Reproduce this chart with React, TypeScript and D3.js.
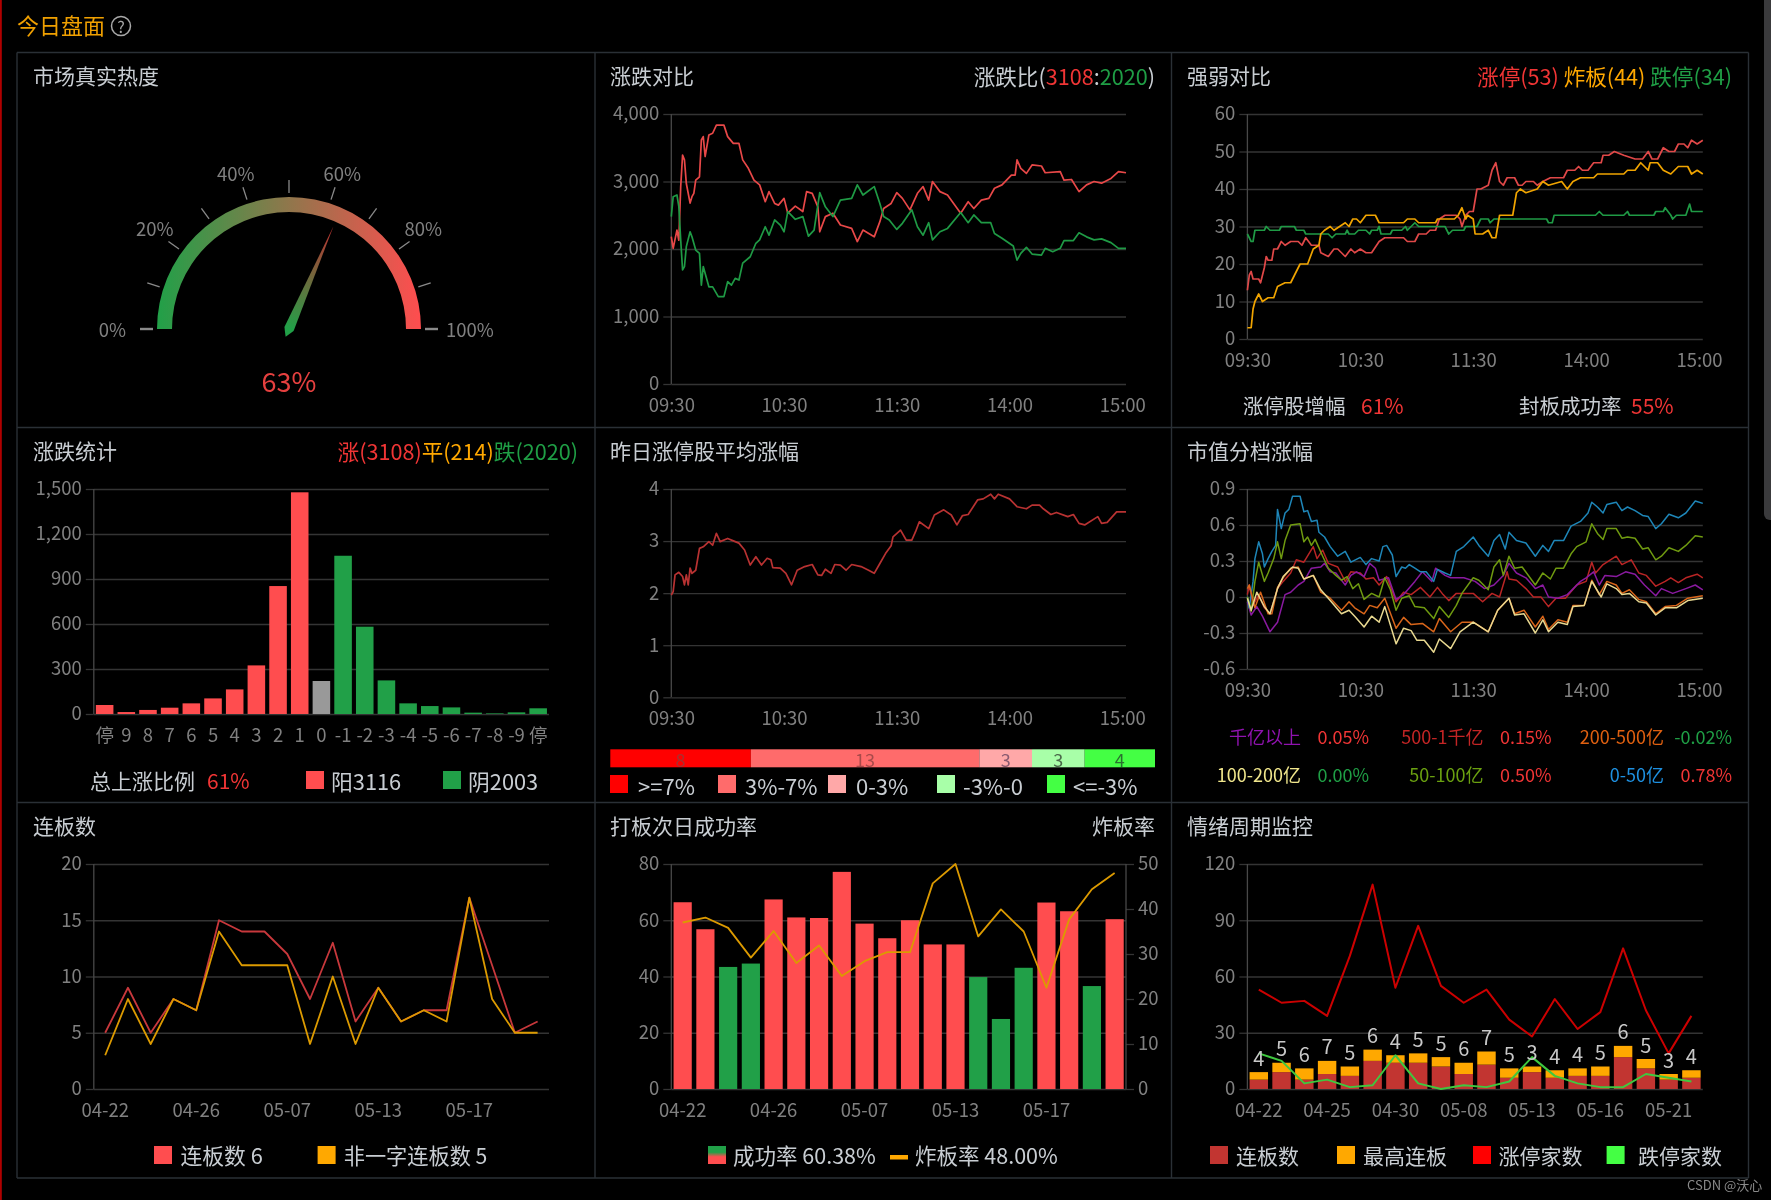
import { useEffect, useRef } from "react";
import * as d3 from "d3";

type Pt = [number, number];

// intraday series are [minute since open, value]
const timeLabels = ["09:30", "10:30", "11:30", "14:00", "15:00"];
const timeTicks = [0, 60, 120, 180, 240];

const upCount: Pt[] = [[0,2183],[1,2010],[3,2280],[4,2130],[5,2920],[6,3390],[7,3320],[8,2970],[10,2680],[11,2775],[12,2825],[13,3020],[15,3070],[16,3615],[17,3665],[18,3370],[20,3690],[22,3715],[24,3835],[28,3835],[30,3665],[33,3565],[36,3565],[38,3320],[41,3195],[44,3020],[47,2950],[50,2700],[52,2850],[55,2675],[57,2650],[60,2750],[62,2530],[66,2635],[70,2555],[72,2850],[75,2825],[78,2625],[79,2255],[82,2480],[86,2530],[90,2355],[96,2305],[99,2110],[102,2280],[108,2180],[111,2405],[113,2600],[117,2675],[120,2835],[123,2750],[127,2580],[131,2825],[134,2925],[137,2725],[139,3000],[143,2850],[147,2800],[154,2530],[158,2700],[161,2600],[165,2725],[169,2750],[172,2900],[176,2950],[181,3095],[183,3095],[184,3320],[186,3195],[189,3120],[192,3245],[197,3230],[199,3130],[207,3145],[209,3020],[213,3030],[217,2850],[221,2950],[225,3000],[229,2975],[234,3045],[238,3145],[242,3130]];
const downCount: Pt[] = [[0,2480],[1,2775],[3,2800],[4,2630],[5,2135],[6,1690],[7,1740],[8,2035],[10,2255],[11,2180],[13,1985],[15,1935],[16,1465],[17,1740],[20,1440],[22,1440],[25,1295],[28,1295],[30,1515],[32,1465],[34,1565],[36,1540],[38,1790],[42,1885],[45,2085],[47,2135],[50,2330],[52,2205],[55,2430],[58,2355],[60,2255],[62,2555],[66,2440],[70,2480],[73,2190],[76,2280],[79,2835],[82,2625],[86,2480],[90,2725],[96,2750],[99,2950],[102,2800],[108,2925],[111,2675],[113,2480],[116,2430],[120,2290],[123,2380],[128,2580],[131,2330],[134,2205],[137,2390],[139,2135],[143,2255],[147,2305],[154,2540],[158,2390],[161,2505],[165,2390],[170,2390],[172,2230],[176,2160],[182,2045],[184,1835],[186,1935],[189,2025],[192,1925],[197,1910],[199,2010],[203,1960],[207,2010],[209,2125],[214,2125],[217,2240],[221,2180],[225,2135],[229,2150],[234,2095],[238,2010],[242,2010]];

const limitUp: Pt[] = [[0,13],[1,17],[2,18],[3,16],[6,16],[7,15],[9,19],[10,22],[11,21],[13,21],[14,24],[16,24],[18,26],[20,25],[23,26],[27,26],[29,25],[31,27],[34,25],[38,25],[39,23],[43,22],[46,24],[48,24],[52,22],[55,24],[57,23],[60,24],[63,23],[66,23],[70,26],[73,27],[83,27],[85,26],[89,26],[91,28],[95,28],[97,29],[100,29],[102,32],[105,33],[111,33],[113,32],[114,30],[116,33],[118,34],[120,34],[122,40],[124,40],[128,41],[130,45],[132,47],[134,42],[136,41],[138,43],[142,43],[144,41],[146,41],[148,42],[152,42],[154,41],[157,42],[161,43],[168,43],[170,45],[174,45],[176,46],[178,45],[181,45],[184,47],[188,47],[189,49],[192,49],[195,50],[200,49],[206,48],[210,48],[213,50],[215,48],[218,48],[221,51],[224,50],[227,50],[229,52],[232,52],[234,51],[236,53],[239,52],[242,53]];
const brokenBoard: Pt[] = [[0,3],[2,3],[3,8],[4,10],[6,12],[8,10],[11,11],[14,11],[16,14],[20,15],[23,15],[25,17],[28,20],[32,20],[35,24],[38,25],[39,28],[41,29],[44,30],[46,29],[52,31],[54,30],[56,32],[58,32],[60,31],[63,33],[68,33],[70,31],[83,31],[85,32],[89,32],[91,31],[100,31],[101,32],[110,32],[112,33],[114,35],[116,32],[117,33],[120,32],[121,28],[125,28],[128,29],[130,27],[132,27],[134,33],[138,33],[141,33],[143,39],[145,40],[148,39],[154,40],[157,42],[160,41],[167,42],[170,40],[173,42],[177,43],[184,43],[186,44],[200,44],[202,45],[206,45],[209,47],[211,46],[213,45],[214,47],[218,47],[221,45],[225,44],[229,46],[234,46],[236,44],[239,45],[242,44]];
const limitDown: Pt[] = [[0,28],[2,26],[3,26],[4,29],[9,29],[10,30],[12,29],[17,29],[18,30],[25,30],[26,29],[30,29],[31,28],[43,28],[45,27],[47,28],[52,28],[53,29],[54,28],[57,28],[59,29],[63,29],[65,28],[66,29],[69,29],[70,30],[71,28],[76,28],[77,29],[82,29],[84,30],[85,29],[87,30],[89,31],[91,30],[105,30],[107,28],[109,29],[115,29],[116,30],[122,30],[124,32],[128,32],[129,31],[131,32],[159,32],[160,31],[162,31],[163,33],[185,33],[187,34],[189,33],[200,33],[202,34],[203,33],[216,33],[217,34],[221,34],[222,35],[225,33],[226,32],[228,33],[233,33],[235,36],[236,34],[242,34]];

const rangeCats = ["停","9","8","7","6","5","4","3","2","1","0","-1","-2","-3","-4","-5","-6","-7","-8","-9","停"];
const rangeCounts = [60,13,27,42,71,104,164,324,853,1478,220,1055,582,224,71,53,44,9,4,11,38];

const prevLimitAvg: Pt[] = [[0,1.96],[1,2.03],[2,2.35],[4,2.4],[6,2.32],[7,2.16],[8,2.35],[9,2.16],[10,2.48],[11,2.38],[13,2.44],[15,2.86],[17,2.89],[20,2.99],[22,2.92],[24,3.15],[26,2.99],[30,3.05],[34,2.99],[36,2.96],[39,2.83],[42,2.54],[45,2.7],[48,2.54],[51,2.67],[53,2.64],[54,2.49],[58,2.48],[61,2.38],[64,2.16],[67,2.44],[71,2.51],[75,2.55],[78,2.35],[80,2.34],[82,2.46],[85,2.38],[87,2.55],[90,2.54],[93,2.44],[96,2.55],[101,2.51],[105,2.44],[108,2.38],[111,2.57],[114,2.76],[117,2.91],[118,3.08],[122,3.21],[125,3.02],[128,3.02],[130,3.18],[132,3.37],[137,3.24],[140,3.5],[145,3.6],[149,3.5],[152,3.31],[155,3.49],[158,3.51],[163,3.79],[166,3.81],[170,3.9],[172,3.81],[174,3.9],[180,3.81],[184,3.66],[189,3.62],[192,3.69],[196,3.69],[198,3.62],[202,3.51],[205,3.55],[211,3.47],[214,3.51],[217,3.34],[220,3.31],[227,3.47],[229,3.34],[232,3.36],[237,3.56],[242,3.56]];

const distCounts = [8, 13, 3, 3, 4];
const distLabels = [">=7%", "3%-7%", "0-3%", "-3%-0", "<=-3%"];
const distColors = ["#ff0000", "#ff6b6b", "#ffa8a8", "#a8ffa8", "#44ff44"];
const distTextColors = ["#a83030", "#a84a4a", "#8a5a70", "#4a6a4a", "#2a7030"];

const cap0to50: Pt[] = [[0,0],[1,-0.09],[3,0.13],[4,0.32],[6,0.46],[8,0.36],[9,0.25],[11,0.32],[13,0.38],[15,0.43],[16,0.73],[18,0.57],[20,0.7],[22,0.73],[24,0.84],[28,0.84],[30,0.71],[32,0.72],[34,0.63],[37,0.64],[38,0.54],[41,0.5],[44,0.42],[48,0.34],[52,0.38],[55,0.29],[60,0.33],[63,0.27],[66,0.32],[70,0.3],[72,0.42],[74,0.43],[77,0.35],[79,0.17],[82,0.25],[84,0.24],[86,0.27],[89,0.24],[92,0.21],[95,0.21],[99,0.13],[101,0.23],[105,0.2],[108,0.18],[111,0.38],[115,0.42],[120,0.5],[123,0.43],[128,0.34],[131,0.47],[134,0.52],[137,0.4],[139,0.54],[143,0.47],[148,0.45],[153,0.34],[157,0.43],[160,0.38],[163,0.47],[168,0.47],[172,0.59],[177,0.63],[181,0.7],[183,0.79],[186,0.75],[189,0.7],[191,0.77],[196,0.79],[199,0.72],[202,0.75],[206,0.72],[210,0.68],[213,0.67],[217,0.57],[220,0.61],[224,0.69],[229,0.66],[233,0.7],[238,0.8],[242,0.78]];
const cap50to100: Pt[] = [[0,0],[2,-0.12],[4,0.13],[6,0.29],[9,0.13],[11,0.2],[14,0.32],[16,0.46],[18,0.32],[20,0.47],[23,0.6],[28,0.61],[30,0.46],[32,0.5],[34,0.43],[36,0.48],[40,0.34],[43,0.24],[47,0.18],[50,0.14],[53,0.17],[56,0.07],[59,0.11],[62,-0.02],[66,0.03],[70,0],[73,0.16],[76,0.06],[79,-0.11],[82,-0.01],[86,0.01],[89,-0.08],[94,-0.09],[99,-0.18],[102,-0.08],[107,-0.17],[111,-0.07],[114,0.03],[120,0.16],[123,0.14],[128,0.06],[131,0.25],[134,0.31],[136,0.18],[139,0.34],[142,0.24],[146,0.25],[153,0.1],[157,0.2],[161,0.15],[164,0.24],[168,0.24],[172,0.36],[175,0.42],[180,0.46],[183,0.61],[186,0.53],[189,0.48],[191,0.57],[196,0.57],[199,0.49],[202,0.5],[206,0.49],[210,0.4],[213,0.41],[217,0.31],[220,0.34],[224,0.41],[229,0.38],[233,0.43],[238,0.51],[242,0.5]];
const cap500to1000: Pt[] = [[0,0.02],[1,0.1],[3,-0.07],[6,0.02],[9,-0.09],[12,-0.14],[16,0.07],[19,0.13],[23,0.2],[26,0.31],[30,0.29],[35,0.42],[37,0.32],[40,0.39],[43,0.28],[48,0.25],[52,0.13],[55,0.21],[60,0.2],[63,0.15],[67,0.16],[70,0.1],[74,0.17],[79,-0.04],[83,0.04],[87,0.02],[92,0.08],[97,0],[101,0.08],[104,0.02],[107,-0.03],[111,0.03],[120,0.03],[125,-0.04],[130,0.03],[134,0],[138,0.21],[139,0.15],[143,0.14],[148,0.07],[152,0],[156,0],[160,-0.08],[164,-0.01],[169,-0.01],[175,0.1],[180,0.13],[183,0.29],[185,0.2],[189,0.27],[196,0.34],[199,0.27],[204,0.31],[208,0.2],[212,0.18],[217,0.09],[222,0.13],[225,0.16],[229,0.12],[233,0.16],[239,0.19],[242,0.16]];
const capOver1000: Pt[] = [[0,-0.04],[2,-0.15],[5,-0.08],[8,-0.16],[12,-0.29],[16,-0.21],[20,0.02],[23,0.04],[27,0.1],[30,0.13],[34,0.24],[39,0.25],[41,0.28],[44,0.21],[47,0.2],[52,0.1],[55,0.18],[58,0.21],[62,0.17],[65,0.28],[68,0.24],[70,0.14],[75,0.16],[79,-0.02],[83,0.02],[89,0.13],[93,0.21],[98,0.13],[100,0.24],[105,0.18],[108,0.16],[115,0.16],[121,0.13],[126,0.07],[131,0.1],[136,0.18],[139,0.28],[143,0.2],[148,0.16],[153,0.07],[157,0.1],[160,0],[165,-0.01],[170,0.02],[177,0.13],[180,0.16],[184,0.21],[187,0.1],[190,0.18],[196,0.17],[201,0.21],[206,0.19],[211,0.1],[217,0.01],[220,0.07],[226,0.03],[233,0.07],[238,0.1],[242,0.06]];
const cap200to500: Pt[] = [[0,0.07],[1,0.1],[4,-0.09],[7,0.04],[11,-0.14],[13,-0.14],[16,0.08],[19,0.16],[23,0.24],[27,0.25],[30,0.15],[35,0.18],[39,0.04],[44,-0.01],[50,-0.11],[54,-0.04],[57,-0.09],[62,-0.14],[65,-0.07],[69,-0.09],[73,-0.01],[79,-0.26],[83,-0.17],[87,-0.23],[93,-0.22],[99,-0.29],[102,-0.18],[108,-0.29],[114,-0.21],[120,-0.21],[128,-0.29],[133,-0.11],[139,-0.01],[142,-0.14],[147,-0.11],[153,-0.25],[157,-0.16],[160,-0.27],[165,-0.19],[170,-0.21],[173,-0.07],[179,-0.07],[183,0.14],[187,0.02],[191,0.13],[196,0.1],[199,0.03],[203,0.06],[208,-0.02],[212,-0.04],[217,-0.14],[222,-0.08],[228,-0.07],[234,-0.01],[242,0.01]];
const cap100to200: Pt[] = [[0,-0.01],[2,-0.11],[5,0.04],[9,-0.08],[12,-0.14],[16,0.07],[19,0.17],[24,0.25],[27,0.24],[30,0.15],[35,0.18],[39,0.06],[44,-0.03],[50,-0.14],[54,-0.11],[57,-0.16],[62,-0.25],[66,-0.16],[70,-0.21],[73,-0.08],[79,-0.39],[83,-0.26],[87,-0.28],[90,-0.36],[94,-0.36],[99,-0.46],[102,-0.35],[108,-0.43],[113,-0.29],[120,-0.21],[128,-0.29],[133,-0.11],[139,-0.01],[142,-0.15],[147,-0.14],[153,-0.3],[157,-0.19],[160,-0.29],[165,-0.21],[170,-0.23],[173,-0.08],[179,-0.07],[183,0.13],[188,0],[191,0.11],[196,0.07],[199,0.02],[203,0.03],[208,-0.04],[212,-0.05],[217,-0.15],[222,-0.09],[228,-0.09],[234,-0.03],[242,-0.01]];

const dates = ["04-22","04-23","04-24","04-25","04-26","04-29","04-30","05-06","05-07","05-08","05-09","05-10","05-13","05-14","05-15","05-16","05-17","05-20","05-21","05-22"];
const chainCount = [5,9,5,8,7,15,14,14,12,8,13,6,9,6,7,7,17,11,5,6];
const nonOneWord = [3,8,4,8,7,14,11,11,11,4,10,4,9,6,7,6,17,8,5,5];
const nextDayRate = [66.4,56.8,43.4,44.6,67.4,61,60.8,77.2,58.8,53.6,60,51.4,51.4,39.8,24.9,43.1,66.3,63.2,36.6,60.38];
const boardBreakRate = [37,38.1,35.8,29.2,35.1,28,31.9,25.1,28.4,30.4,30.4,45.7,50,33.9,39.9,35,22.5,37.7,44.4,48];
const highestChain = [4,5,6,7,5,6,4,5,5,6,7,5,3,4,4,5,6,5,3,4];
const limitUpDaily = [53,46,47,39,71,109,54,87,55,46,53,37,28,48,32,41,75,42,19,39];
const limitDownDaily = [19,15,3,5,1,2,18,3,0,2,1,4,17,7,3,1,1,8,6,4];

const RED = "#ff4d4f";
const GREEN = "#21a048";
const ORANGE = "#ffa800";
const TXT_RED = "#f03535";
const TXT_GREEN = "#1f9e45";
const TITLE = "#c8cdd2";
const TICK = "#808080";
const GRID = "#343434";
const AXIS = "#484848";
const FONT = "'Noto Sans CJK SC', 'Noto Sans', sans-serif";

// plot boxes
const colX: [number, number][] = [[93.8, 549], [671.3, 1126], [1247.4, 1702.8]];

type Sel = d3.Selection<any, unknown, null, undefined>;

const text = (g: Sel, x: number, y: number, s: string, fill = TITLE, size = 21, anchor = "start") =>
  g.append("text").attr("x", x).attr("y", y).attr("fill", fill).attr("font-size", size)
    .attr("text-anchor", anchor).attr("dominant-baseline", "central").text(s);

const rich = (g: Sel, x: number, y: number, parts: [string, string][], anchor = "end", size = 21.6) => {
  const t = g.append("text").attr("x", x).attr("y", y).attr("font-size", size)
    .attr("text-anchor", anchor).attr("dominant-baseline", "central");
  parts.forEach(([s, c]) => t.append("tspan").attr("fill", c).text(s));
};

const swatch = (g: Sel, x: number, y: number, fill: string, w = 18, h = 18) =>
  g.append("rect").attr("x", x).attr("y", y).attr("width", w).attr("height", h).attr("fill", fill);

const styleAxis = (a: Sel) => {
  a.select(".domain").remove();
  a.selectAll("text").attr("fill", TICK).attr("font-size", 18.5).attr("font-family", FONT);
  a.selectAll("line").attr("stroke", GRID).attr("stroke-width", 1.3);
};

const yGrid = (g: Sel, y: any, ticks: number[], x0: number, x1: number, fmt: (v: any) => string = d3.format(",")) => {
  const a = g.append("g").attr("transform", `translate(${x0},0)`)
    .call(d3.axisLeft(y).tickValues(ticks).tickSize(8).tickPadding(4).tickFormat(fmt) as any);
  styleAxis(a);
  const gr = g.append("g").attr("transform", `translate(${x0},0)`)
    .call(d3.axisRight(y).tickValues(ticks).tickSize(x1 - x0).tickFormat(() => "") as any);
  gr.select(".domain").remove();
  gr.selectAll("line").attr("stroke", GRID).attr("stroke-width", 1.3);
  const [b, t] = y.range();
  g.append("line").attr("x1", x0).attr("x2", x0).attr("y1", t).attr("y2", b)
    .attr("stroke", AXIS).attr("stroke-width", 1.3);
};

const xLabels = (g: Sel, x: any, y0: number, ticks: any[], fmt: (v: any) => string) => {
  const a = g.append("g").attr("transform", `translate(0,${y0})`)
    .call(d3.axisBottom(x).tickValues(ticks).tickSize(0).tickPadding(15).tickFormat(fmt) as any);
  styleAxis(a);
};

const minuteLine = (g: Sel, x: any, y: any, data: Pt[], color: string, w = 1.7) => {
  const line = d3.line<Pt>().x((d) => x(d[0])).y((d) => y(d[1]));
  g.append("path").attr("d", line(data)).attr("fill", "none").attr("stroke", color)
    .attr("stroke-width", w).attr("stroke-linejoin", "round");
};

const dailyLine = (g: Sel, x: any, y: any, data: number[], color: string, w = 1.8) => {
  const line = d3.line<number>().x((_, i) => x(i) + x.bandwidth() / 2).y((d) => y(d));
  g.append("path").attr("d", line(data)).attr("fill", "none").attr("stroke", color)
    .attr("stroke-width", w).attr("stroke-linejoin", "round");
};

const timeX = (col: number) => d3.scaleLinear().domain([0, 242]).range(colX[col]);
const timeFmt = (v: number) => timeLabels[timeTicks.indexOf(v)];

export default function App() {
  const ref = useRef(null);

  useEffect(() => {
    const svg = d3.select(ref.current) as unknown as Sel;
    svg.selectAll("*").remove();
    const defs = svg.append("defs");

    // frame
    svg.append("rect").attr("width", 1771).attr("height", 1200).attr("fill", "#000");
    svg.append("rect").attr("x", 0).attr("y", 0).attr("width", 1.8).attr("height", 1200).attr("fill", "#b00000");
    svg.append("path").attr("d", "M1764,0H1771V520H1770A6,6 0 0 1 1764,514Z").attr("fill", "#3a3a3c");
    text(svg, 17, 24, "今日盘面", "#f0a000", 22);
    svg.append("circle").attr("cx", 121).attr("cy", 26).attr("r", 9.5).attr("fill", "none").attr("stroke", "#a8a8a8").attr("stroke-width", 1.5);
    text(svg, 121, 25.5, "?", "#a8a8a8", 16, "middle");

    const rowY = [52.5, 427.5, 802.5, 1178];
    const colE = [17, 595, 1171.5, 1748.5];
    rowY.forEach((y) => svg.append("line").attr("x1", colE[0]).attr("x2", colE[3]).attr("y1", y).attr("y2", y).attr("stroke", "#2a3036").attr("stroke-width", 1.4));
    colE.forEach((x) => svg.append("line").attr("x1", x).attr("x2", x).attr("y1", rowY[0]).attr("y2", rowY[3]).attr("stroke", "#2a3036").attr("stroke-width", 1.4));

    // gauge
    const gauge = svg.append("g");
    text(gauge, 33, 75, "市场真实热度");
    const cx = 289, cy = 329;
    const pct = 63;
    const angle = d3.scaleLinear().domain([0, 100]).range([-Math.PI, 0]);
    const grad = defs.append("linearGradient").attr("id", "gaugeGrad").attr("gradientUnits", "userSpaceOnUse")
      .attr("x1", -132).attr("x2", 132).attr("y1", 0).attr("y2", 0);
    grad.append("stop").attr("offset", 0).attr("stop-color", "#21a048");
    grad.append("stop").attr("offset", 1).attr("stop-color", "#ff4d4f");
    const arc = d3.arc()({ innerRadius: 117, outerRadius: 132, startAngle: -Math.PI / 2, endAngle: Math.PI / 2 } as any);
    gauge.append("path").attr("transform", `translate(${cx},${cy})`).attr("d", arc).attr("fill", "url(#gaugeGrad)");
    const labelShift: Record<number, number> = { 0: 0, 20: -3.5, 40: 2, 60: 2, 80: -3.5, 100: 0 };
    const labelDx: Record<number, number> = { 0: 0, 20: 0, 40: -2, 60: 2, 80: 0, 100: 0 };
    d3.range(0, 101, 10).forEach((v) => {
      const a = angle(v);
      gauge.append("line")
        .attr("x1", cx + 136 * Math.cos(a)).attr("y1", cy + 136 * Math.sin(a))
        .attr("x2", cx + 149 * Math.cos(a)).attr("y2", cy + 149 * Math.sin(a))
        .attr("stroke", "#8a8a8a").attr("stroke-width", v === 0 || v === 100 ? 2.4 : 1.3);
      if (v % 20 === 0) {
        const anchor = v === 0 ? "end" : v === 100 ? "start" : "middle";
        const r = v === 0 ? 163 : v === 100 ? 157 : 166;
        text(gauge, cx + labelDx[v] + r * Math.cos(a), cy + labelShift[v] + r * Math.sin(a), `${v}%`, TICK, 18.5, anchor);
      }
    });
    const na = angle(pct);
    const px = (u: number, v: number): [number, number] => [
      cx + u * Math.cos(na) - v * Math.sin(na),
      cy + u * Math.sin(na) + v * Math.cos(na),
    ];
    const tip = px(112, 0);
    const ng = defs.append("linearGradient").attr("id", "needleGrad").attr("gradientUnits", "userSpaceOnUse")
      .attr("x1", cx).attr("y1", cy).attr("x2", tip[0]).attr("y2", tip[1]);
    ng.append("stop").attr("offset", 0).attr("stop-color", "#21a048");
    ng.append("stop").attr("offset", 1).attr("stop-color", "#c03030");
    gauge.append("path").attr("d", d3.line()([tip, px(0, 5), px(-8.5, 0), px(0, -5)]) + "Z").attr("fill", "url(#needleGrad)");
    text(gauge, cx, 380, `${pct}%`, "#e5403f", 27, "middle");

    // up / down
    {
      const g = svg.append("g");
      const x = timeX(1), y = d3.scaleLinear().domain([0, 4000]).range([384, 114]);
      text(g, 610, 75, "涨跌对比");
      rich(g, 1155, 75, [["涨跌比(", TITLE], ["3108", TXT_RED], [":", TITLE], ["2020", TXT_GREEN], [")", TITLE]]);
      yGrid(g, y, [0, 1000, 2000, 3000, 4000], 671.3, 1126);
      xLabels(g, x, 384, timeTicks, timeFmt);
      minuteLine(g, x, y, upCount, "#e84848");
      minuteLine(g, x, y, downCount, "#1f9a45");
    }

    // strength
    {
      const g = svg.append("g");
      const x = timeX(2), y = d3.scaleLinear().domain([0, 60]).range([339, 114]);
      text(g, 1187, 75, "强弱对比");
      rich(g, 1732, 75, [["涨停(53) ", TXT_RED], ["炸板(44) ", ORANGE], ["跌停(34)", TXT_GREEN]]);
      yGrid(g, y, [0, 10, 20, 30, 40, 50, 60], 1247.4, 1702.8);
      xLabels(g, x, 339, timeTicks, timeFmt);
      minuteLine(g, x, y, limitUp, "#e04848");
      minuteLine(g, x, y, limitDown, "#1f9a45");
      minuteLine(g, x, y, brokenBoard, "#f0a400");
      text(g, 1243, 405, "涨停股增幅", TITLE, 20.5);
      text(g, 1361, 405, "61%", TXT_RED);
      text(g, 1519, 405, "封板成功率", TITLE, 20.5);
      text(g, 1631, 405, "55%", TXT_RED);
    }

    // distribution bars
    {
      const g = svg.append("g");
      const x = d3.scaleBand<number>().domain(d3.range(rangeCats.length)).range(colX[0]).paddingInner(0.19).paddingOuter(0.095);
      const y = d3.scaleLinear().domain([0, 1500]).range([714, 489]);
      text(g, 33, 450, "涨跌统计");
      rich(g, 578, 450, [["涨(3108)", TXT_RED], ["平(214)", ORANGE], ["跌(2020)", TXT_GREEN]]);
      yGrid(g, y, [0, 300, 600, 900, 1200, 1500], 93.8, 549);
      xLabels(g, x, 714, d3.range(rangeCats.length), (i) => rangeCats[i]);
      g.selectAll("rect.bar").data(rangeCounts).join("rect").attr("class", "bar")
        .attr("x", (_, i) => x(i)!).attr("width", x.bandwidth())
        .attr("y", (d) => y(d)).attr("height", (d) => y(0) - y(d))
        .attr("fill", (_, i) => (i < 10 ? RED : i === 10 ? "#999999" : GREEN));
      text(g, 90, 780, "总上涨比例");
      text(g, 207, 780, "61%", TXT_RED);
      swatch(g, 306, 771, RED);
      text(g, 331, 780, "阳3116", TITLE, 21.8);
      swatch(g, 443, 771, GREEN);
      text(g, 468, 780, "阴2003", TITLE, 21.8);
    }

    // yesterday limit-up average
    {
      const g = svg.append("g");
      const x = timeX(1), y = d3.scaleLinear().domain([0, 4]).range([697.3, 489]);
      text(g, 610, 450, "昨日涨停股平均涨幅");
      yGrid(g, y, [0, 1, 2, 3, 4], 671.3, 1126);
      xLabels(g, x, 697.3, timeTicks, timeFmt);
      minuteLine(g, x, y, prevLimitAvg, "#b83232");
      const total = d3.sum(distCounts);
      const sx = d3.scaleLinear().domain([0, total]).range([610.3, 1155]);
      let acc = 0;
      distCounts.forEach((c, i) => {
        g.append("rect").attr("x", sx(acc)).attr("width", sx(acc + c) - sx(acc)).attr("y", 749.3).attr("height", 18).attr("fill", distColors[i]);
        text(g, sx(acc + c / 2), 759, String(c), distTextColors[i], 18, "middle");
        acc += c;
      });
      const lx = [610, 718, 828, 937, 1047];
      const tx = [638, 745, 856, 963, 1073];
      distLabels.forEach((s, i) => {
        swatch(g, lx[i], 775, distColors[i]);
        text(g, tx[i], 784.5, s, TITLE, 22);
      });
    }

    // cap buckets
    {
      const g = svg.append("g");
      const x = timeX(2), y = d3.scaleLinear().domain([-0.6, 0.9]).range([669, 489]);
      text(g, 1187, 450, "市值分档涨幅");
      yGrid(g, y, [-0.6, -0.3, 0, 0.3, 0.6, 0.9], 1247.4, 1702.8, (v) => (v === 0 ? "0" : String(v)));
      xLabels(g, x, 669, timeTicks, timeFmt);
      minuteLine(g, x, y, cap500to1000, "#b92525", 1.5);
      minuteLine(g, x, y, capOver1000, "#8a1aa0", 1.5);
      minuteLine(g, x, y, cap0to50, "#1e86b8", 1.5);
      minuteLine(g, x, y, cap50to100, "#6f9a10", 1.5);
      minuteLine(g, x, y, cap200to500, "#d8651a", 1.5);
      minuteLine(g, x, y, cap100to200, "#e8d890", 1.5);
      const rows: [string, string, string, string, number, number][] = [
        ["千亿以上", "#9013b0", "0.05%", TXT_RED, 1301, 736],
        ["500-1千亿", "#c42525", "0.15%", TXT_RED, 1483.5, 736],
        ["200-500亿", "#e06010", "-0.02%", TXT_GREEN, 1664, 736],
        ["100-200亿", "#f0e68c", "0.00%", TXT_GREEN, 1301, 773.5],
        ["50-100亿", "#6aa010", "0.50%", TXT_RED, 1483.5, 773.5],
        ["0-50亿", "#1e90e0", "0.78%", TXT_RED, 1664, 773.5],
      ];
      rows.forEach(([n, c, v, vc, nx, ry]) => {
        text(g, nx, ry, n, c, 18, "end");
        text(g, nx + 68, ry, v, vc, 18, "end");
      });
    }

    // chain count
    {
      const g = svg.append("g");
      const x = d3.scaleBand<number>().domain(d3.range(dates.length)).range(colX[0]);
      const y = d3.scaleLinear().domain([0, 20]).range([1089, 864]);
      text(g, 33, 825, "连板数");
      yGrid(g, y, [0, 5, 10, 15, 20], 93.8, 549);
      xLabels(g, x, 1089, [0, 4, 8, 12, 16], (i) => dates[i]);
      dailyLine(g, x, y, chainCount, "#c8383c");
      dailyLine(g, x, y, nonOneWord, "#dc9a00");
      swatch(g, 154, 1146, RED);
      text(g, 180.5, 1154.5, "连板数 6", TITLE, 21.8);
      swatch(g, 317.6, 1146, ORANGE);
      text(g, 343.7, 1154.5, "非一字连板数 5", TITLE, 21.2);
    }

    // next-day success rate
    {
      const g = svg.append("g");
      const x = d3.scaleBand<number>().domain(d3.range(dates.length)).range(colX[1]).paddingInner(0.2).paddingOuter(0.1);
      const xl = d3.scaleBand<number>().domain(d3.range(dates.length)).range(colX[1]);
      const y = d3.scaleLinear().domain([0, 80]).range([1089, 864]);
      const y2 = d3.scaleLinear().domain([0, 50]).range([1089, 864]);
      text(g, 610, 825, "打板次日成功率");
      text(g, 1155, 825, "炸板率", TITLE, 21, "end");
      yGrid(g, y, [0, 20, 40, 60, 80], 671.3, 1126, String);
      const ra = g.append("g").attr("transform", "translate(1126,0)")
        .call(d3.axisRight(y2).tickValues([0, 10, 20, 30, 40, 50]).tickSize(8).tickPadding(4) as any);
      styleAxis(ra);
      g.append("line").attr("x1", 1126).attr("x2", 1126).attr("y1", 864).attr("y2", 1089).attr("stroke", AXIS).attr("stroke-width", 1.3);
      xLabels(g, xl, 1089, [0, 4, 8, 12, 16], (i) => dates[i]);
      g.selectAll("rect.bar").data(nextDayRate).join("rect").attr("class", "bar")
        .attr("x", (_, i) => x(i)!).attr("width", x.bandwidth())
        .attr("y", (d) => y(d)).attr("height", (d) => y(0) - y(d))
        .attr("fill", (d) => (d >= 50 ? RED : GREEN));
      dailyLine(g, xl, y2, boardBreakRate, "#dc9a00");
      const sg = defs.append("linearGradient").attr("id", "rateSwatch").attr("x1", 0).attr("x2", 0).attr("y1", 0).attr("y2", 1);
      sg.append("stop").attr("offset", 0.35).attr("stop-color", GREEN);
      sg.append("stop").attr("offset", 0.6).attr("stop-color", RED);
      swatch(g, 708, 1146, "url(#rateSwatch)");
      text(g, 733, 1154.5, "成功率 60.38%", TITLE, 21.5);
      swatch(g, 890, 1155, ORANGE, 18, 4.5);
      text(g, 915, 1154.5, "炸板率 48.00%", TITLE, 21.5);
    }

    // sentiment monitor
    {
      const g = svg.append("g");
      const x = d3.scaleBand<number>().domain(d3.range(dates.length)).range(colX[2]).paddingInner(0.19).paddingOuter(0.095);
      const xl = d3.scaleBand<number>().domain(d3.range(dates.length)).range(colX[2]);
      const y = d3.scaleLinear().domain([0, 120]).range([1089, 864]);
      text(g, 1187, 825, "情绪周期监控");
      yGrid(g, y, [0, 30, 60, 90, 120], 1247.4, 1702.8, String);
      xLabels(g, xl, 1089, [0, 3, 6, 9, 12, 15, 18], (i) => dates[i]);
      const stack = d3.stack<number>().keys(["chain", "high"])
        .value((i, k) => (k === "chain" ? chainCount[i] : highestChain[i]))(d3.range(dates.length));
      const fills = ["#c23531", ORANGE];
      stack.forEach((s, si) => {
        g.append("g").selectAll("rect").data(s).join("rect")
          .attr("x", (_, i) => x(i)!).attr("width", x.bandwidth())
          .attr("y", (d) => y(d[1])).attr("height", (d) => y(d[0]) - y(d[1]))
          .attr("fill", fills[si]);
      });
      dailyLine(g, xl, y, limitUpDaily, "#cc0000", 2);
      dailyLine(g, xl, y, limitDownDaily, "#3fc83f", 2);
      stack[1].forEach((d, i) => {
        text(g, xl(i)! + xl.bandwidth() / 2, y(d[1]) - 15, String(highestChain[i]), "#c8c8c8", 20, "middle");
      });
      swatch(g, 1210, 1146, "#c23531");
      text(g, 1236, 1154.5, "连板数");
      swatch(g, 1337, 1146, ORANGE);
      text(g, 1363, 1154.5, "最高连板");
      swatch(g, 1473, 1146, "#ff0000");
      text(g, 1498.5, 1154.5, "涨停家数");
      swatch(g, 1606.6, 1146, "#44ff44");
      text(g, 1638, 1154.5, "跌停家数");
    }

    text(svg, 1687, 1184, "CSDN @沃心", "#8a8a8a", 13);
  }, []);

  return (
    <svg
      ref={ref}
      width={1771}
      height={1200}
      fontFamily={FONT}
      style={{ position: "absolute", left: 0, top: 0, display: "block", filter: "blur(0.4px)" }}
    />
  );
}
